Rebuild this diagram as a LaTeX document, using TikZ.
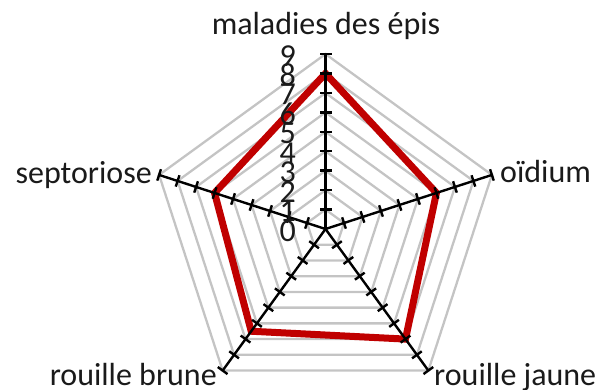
\documentclass[tikz,border=0pt]{standalone}
\usepackage{fontspec}
\setmainfont{Carlito}
\definecolor{gridgray}{HTML}{C4C4C4}
\definecolor{seriesred}{HTML}{C00000}
\definecolor{textcol}{HTML}{1A1A1A}
\begin{document}
\begin{tikzpicture}[x=1pt,y=1pt,
  gridline/.style={draw=gridgray,line width=2.3pt,line join=miter},
  axisline/.style={draw=black,line width=2.4pt},
  tickmark/.style={draw=black,line width=2.4pt},
  series/.style={draw=seriesred,line width=7pt,line join=miter},
  catlabel/.style={font=\fontsize{32}{32}\selectfont,text=textcol,inner sep=0pt},
  numlabel/.style={font=\fontsize{32}{32}\selectfont,text=textcol,inner sep=0pt,anchor=base east}]
\useasboundingbox (0,0) rectangle (612,389);
\def\u{19.44}
\coordinate (C) at (325.5,160);
\begin{scope}[shift={(325.5,160)}]
  \foreach \i in {1,...,9}{
    \draw[gridline] (90:\i*\u) -- (18:\i*\u) -- (-54:\i*\u) -- (-126:\i*\u) -- (162:\i*\u) -- cycle;
  }
  \coordinate (D1) at (90:8*\u);
  \coordinate (D2) at (18:6*\u);
  \coordinate (D3) at (-54:7*\u);
  \coordinate (D4) at (-126:6.5*\u);
  \coordinate (D5) at (162:6*\u);
  \draw[series] (D1) -- (D2) -- (D3) -- (D4) -- (D5) -- cycle;
  \foreach \a/\n in {90/1,18/2,-54/3,-126/4,162/5}{
    \coordinate (E\n) at (\a:9*\u);
    \draw[axisline] (C) -- (E\n);
    \foreach \i in {1,...,9}{
      \draw[tickmark,rotate=\a] (\i*\u,-6) -- (\i*\u,6);
    }
  }
\end{scope}
\node[catlabel,anchor=base] (L1) at (326,354.7) {maladies des épis};
\node[catlabel,anchor=base west] (L2) at (500,207) {oïdium};
\node[catlabel,anchor=base west] (L3) at (434,3.5) {rouille jaune};
\node[catlabel,anchor=base east] (L4) at (217,3.5) {rouille brune};
\node[catlabel,anchor=base east] (L5) at (152,206) {septoriose};
\foreach \i in {0,...,9}{
  \node[numlabel] (N\i) at (296,160+\i*\u-12) {\i};
}
\end{tikzpicture}
\end{document}
